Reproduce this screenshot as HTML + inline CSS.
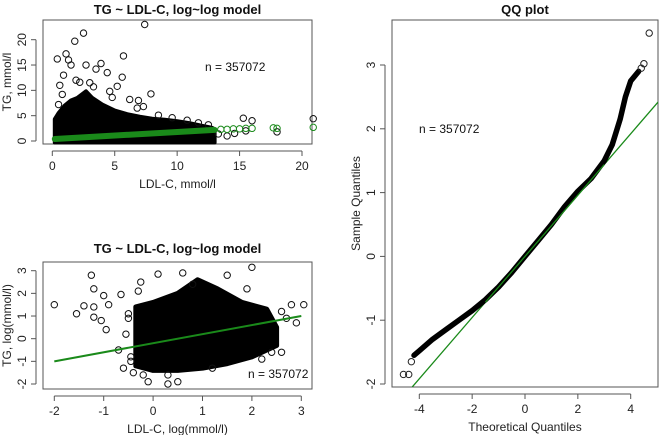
<!DOCTYPE html>
<html><head><meta charset="utf-8">
<style>
body{margin:0;background:#fff;}
svg{display:block;font-family:"Liberation Sans",Arial,sans-serif;}
</style></head>
<body>
<svg id="fig" width="661" height="435" viewBox="0 0 661 435"></svg>
<script>
// ---- Panel 1 data (TG vs LDL-C, mmol/l) ----
const p1XTicks = [0,5,10,15,20];
const p1YTicks = [0,5,10,15,20];
const p1BlobUpperX = [0.2,0.5,1,1.5,2,2.7,3.2,4,5,6,7,8,9,10,11,12,12.8,13];
const p1BlobUpperY = [4.3,5.5,7,8,8.5,9.8,8.5,7.2,6,5.3,4.8,4.4,4.2,3.9,3.5,3,2.6,2.3];
const p1BandX = [0.2,13];
const p1BandY = [0.4,2.2];
const p1GreenX = [13.5,14,14.5,15,15.5,16,17.7,18,20.9];
const p1GreenY = [2.3,2.3,2.4,2.4,2.5,2.5,2.6,2.5,2.7];
const p1OutX = [7.4,2.5,1.8,1.1,0.4,5.7,3.9,2.7,1.5,4.4,5.6,0.9,7.9,15.3,20.9,16,14,18,6.9,1.3,3.5,0.6,0.8,2.2,3.3,4.6,5.2,6.2,7.3,8.5,9.6,10.8,11.7,12.5,13.3,14.6,15.5,6.8,4.8,3.0,1.9,0.5];
const p1OutY = [23,21.3,19.7,17.2,16.2,16.8,15.3,15,15,13.5,12.6,13,9.3,4.5,4.4,4,1,1.8,8,16,14.2,11,9.2,11.6,10.7,9.8,10.8,8.2,6.8,5.1,4.6,4.1,3.6,3.2,1.4,1.5,2,6.5,8.6,11.5,12,7.2];
// ---- Panel 2 data (log-log) ----
const p2XTicks = [-2,-1,0,1,2,3];
const p2YTicks = [-2,-1,0,1,2,3];
const p2BlobX = [-0.35,-0.35,0,0.5,0.9,1.3,1.8,2.3,2.5,2.5,2,1.5,1,0.5,0];
const p2BlobY = [-1.2,1.4,1.6,2,2.6,2.2,1.6,1.3,0.5,-0.3,-0.8,-1.1,-1.3,-1.4,-1.4];
const p2LineX = [-2,3];
const p2LineY = [-1,1];
const p2OutX = [-2,-1.55,-1.25,-1.2,-1.2,-1.0,-0.9,-1.2,-1.05,-0.95,-0.65,-0.7,-0.6,-0.4,-0.1,0.3,0.5,2,2.8,3.05,2.9,2.6,1.5,0.6,-0.25,0.1,-1.4,-0.5,-0.45,-0.55,-0.5,-0.45,2.6,2.7,2.4,2.2,1.9,1.2,0.3,-0.2,0.8,-0.3];
const p2OutY = [1.5,1.1,2.8,2.2,1.4,1.9,1.5,0.95,0.8,0.4,1.95,-0.5,-1.3,-1.5,-1.9,-2,-1.9,3.15,1.5,1.5,0.7,-0.6,2.8,2.9,2.5,2.85,1.45,0.9,-0.8,0.2,1.1,-1.0,1.2,0.9,-0.6,-0.9,2.2,-1.3,-1.6,-1.6,2.4,2.1];
// ---- Panel 3 data (QQ) ----
const p3XTicks = [-4,-2,0,2,4];
const p3YTicks = [-2,-1,0,1,2,3];
const p3CurveX = [-4.2,-4,-3.5,-3,-2.5,-2,-1.5,-1,-0.5,0,0.5,1,1.5,2,2.5,3,3.3,3.6,3.8,4.0,4.3];
const p3CurveY = [-1.55,-1.48,-1.3,-1.15,-1.0,-0.85,-0.68,-0.48,-0.25,0,0.25,0.5,0.78,1.02,1.22,1.5,1.75,2.15,2.5,2.75,2.9];
const p3OutX = [-4.6,-4.4,-4.3,4.5,4.7,4.4];
const p3OutY = [-1.85,-1.85,-1.65,3.02,3.5,2.95];
const p3LineX = [-4.4,5.1];
const p3LineY = [-2.11,2.45];

const NS="http://www.w3.org/2000/svg";
const svg=document.getElementById('fig');
function el(tag,attrs,parent){const e=document.createElementNS(NS,tag);for(const k in attrs)e.setAttribute(k,attrs[k]);(parent||svg).appendChild(e);return e;}
function lin(d0,d1,r0,r1){return v=>r0+(v-d0)*(r1-r0)/(d1-d0);}

function frame(g,box,sx,sy,xt,yt,title,xl,yl,titleY){
  const r=el('rect',{x:box[0],y:box[1],width:box[2]-box[0],height:box[3]-box[1],fill:'none',stroke:'#555','stroke-width':1},g);
  
  
  const xa=el('g',{},g);
  
  
  const ya=el('g',{},g);
  
  
  el('line',{x1:sx(xt[0]),x2:sx(xt[xt.length-1]),y1:box[3]+7,y2:box[3]+7,stroke:'#555'},xa);
  xt.forEach(v=>{el('line',{x1:sx(v),x2:sx(v),y1:box[3]+7,y2:box[3]+12,stroke:'#555'},xa);
    const t=el('text',{x:sx(v),y:box[3]+26,'text-anchor':'middle','font-size':12,fill:'#222'},xa);t.textContent=v;
    
    });
  el('line',{y1:sy(yt[0]),y2:sy(yt[yt.length-1]),x1:box[0]-7,x2:box[0]-7,stroke:'#555'},ya);
  yt.forEach(v=>{el('line',{y1:sy(v),y2:sy(v),x1:box[0]-7,x2:box[0]-12,stroke:'#555'},ya);
    const t=el('text',{x:box[0]-17,y:sy(v),'text-anchor':'middle','font-size':12,fill:'#222',transform:`rotate(-90 ${box[0]-17} ${sy(v)})`},ya);t.textContent=v;
    
    });
  const ti=el('text',{x:(box[0]+box[2])/2,y:titleY,'text-anchor':'middle','font-size':13,'font-weight':'bold',fill:'#111'},g);ti.textContent=title;
  
  
  const xlab=el('text',{x:(box[0]+box[2])/2,y:box[3]+44,'text-anchor':'middle','font-size':12,fill:'#222'},g);xlab.textContent=xl;
  
  
  const yc=(box[1]+box[3])/2, yx=box[0]-32;
  const ylab=el('text',{x:yx,y:yc,'text-anchor':'middle','font-size':12,fill:'#222',transform:`rotate(-90 ${yx} ${yc})`},g);ylab.textContent=yl;
  
  
}
function circ(g,x,y,col){const c=el('circle',{cx:x,cy:y,r:3.2,fill:'none',stroke:col,'stroke-width':1},g);return c;}

// Panel 1
{const g=el('g',{});


const box=[43,20,312,144];const sx=lin(0,20,52.3,302),sy=lin(0,20,141,39.7);
frame(g,box,sx,sy,p1XTicks,p1YTicks,'TG ~ LDL-C, log~log model','LDL-C, mmol/l','TG, mmol/l',14);
let pts=p1BlobUpperX.map((x,i)=>sx(x)+','+sy(p1BlobUpperY[i]));
pts.push(sx(13)+','+sy(-0.3),sx(0.2)+','+sy(-0.3));
const b=el('polygon',{points:pts.join(' '),fill:'#000',stroke:'#000','stroke-width':4,'stroke-linejoin':'round'},g);


p1OutX.forEach((x,i)=>{const c=circ(g,sx(x),sy(p1OutY[i]),'#111');

});
const band=el('line',{x1:sx(p1BandX[0]),y1:sy(p1BandY[0]),x2:sx(p1BandX[1]),y2:sy(p1BandY[1]),stroke:'#1a8a1a','stroke-width':6,'stroke-linecap':'round'},g);


p1GreenX.forEach((x,i)=>{const c=circ(g,sx(x),sy(p1GreenY[i]),'#1a8a1a');

});
const n=el('text',{x:205,y:71,'font-size':12,fill:'#111'},g);n.textContent='n = 357072';

}

// Panel 2
{const g=el('g',{});


const box=[43,262,312,389];const sx=lin(-2,3,54.3,301.3),sy=lin(-2,3,384,270.7);
frame(g,box,sx,sy,p2XTicks,p2YTicks,'TG ~ LDL-C, log~log model','LDL-C, log(mmol/l)','TG, log(mmol/l)',253);
const pts=p2BlobX.map((x,i)=>sx(x)+','+sy(p2BlobY[i]));
const b=el('polygon',{points:pts.join(' '),fill:'#000',stroke:'#000','stroke-width':5,'stroke-linejoin':'round'},g);


p2OutX.forEach((x,i)=>{const c=circ(g,sx(x),sy(p2OutY[i]),'#111');

});
const l=el('line',{x1:sx(p2LineX[0]),y1:sy(p2LineY[0]),x2:sx(p2LineX[1]),y2:sy(p2LineY[1]),stroke:'#1a8a1a','stroke-width':2},g);


const n=el('text',{x:248,y:378,'font-size':12,fill:'#111'},g);n.textContent='n = 357072';

}

// Panel 3
{const g=el('g',{});


const box=[392,20,658,387];const sx=lin(-4,4,419.3,630.7),sy=lin(-2,3,384,65);
frame(g,box,sx,sy,p3XTicks,p3YTicks,'QQ plot','Theoretical Quantiles','Sample Quantiles',14);
const cp=el('clipPath',{id:'c3'},g);el('rect',{x:box[0],y:box[1],width:box[2]-box[0],height:box[3]-box[1]},cp);
const l=el('line',{x1:sx(p3LineX[0]),y1:sy(p3LineY[0]),x2:sx(p3LineX[1]),y2:sy(p3LineY[1]),stroke:'#1a8a1a','stroke-width':1.3,'clip-path':'url(#c3)'},g);


const pl=el('polyline',{points:p3CurveX.map((x,i)=>sx(x)+','+sy(p3CurveY[i])).join(' '),fill:'none',stroke:'#000','stroke-width':5.5,'stroke-linejoin':'round','stroke-linecap':'round'},g);


const l2=el('line',{x1:sx(-1.5),y1:sy(-0.72),x2:sx(3),y2:sy(1.44),stroke:'#1a8a1a','stroke-width':1.3},g);


p3OutX.forEach((x,i)=>{const c=circ(g,sx(x),sy(p3OutY[i]),'#222');

});
const n=el('text',{x:419,y:133,'font-size':12,fill:'#111'},g);n.textContent='n = 357072';

}
</script>
</body></html>
